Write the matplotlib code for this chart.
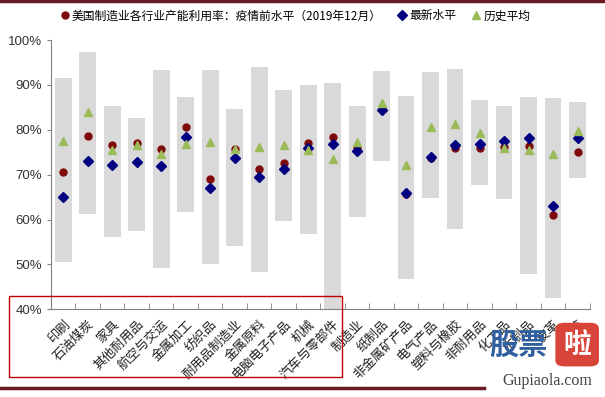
import numpy as np
import matplotlib.pyplot as plt
from matplotlib.patches import FancyBboxPatch, Rectangle
from matplotlib.lines import Line2D
from matplotlib.ticker import FuncFormatter

plt.rcParams['font.family'] = ['Noto Sans CJK SC', 'DejaVu Sans']

# 各行业产能利用率 (%)
hangye = ['印刷', '石油煤炭', '家具', '其他耐用品', '航空与交运', '金属加工', '纺织品',
          '耐用品制造业', '金属原料', '电脑电子产品', '机械', '汽车与零部件', '制造业',
          '纸制品', '非金属矿产品', '电气产品', '塑料与橡胶', '非耐用品', '化工品',
          '木制品', '皮革', '烟草']
zui_gao = [91.5, 97.3, 85.3, 82.6, 93.4, 87.4, 93.3, 84.6, 94.1, 88.9, 90.0,
           90.5, 85.4, 93.2, 87.5, 92.9, 93.5, 86.7, 85.2, 87.4, 87.0, 86.2]
zui_di = [50.5, 61.3, 56.0, 57.4, 49.3, 61.7, 50.0, 54.0, 48.3, 59.6, 56.7,
          36.0, 60.6, 73.1, 46.7, 64.7, 57.8, 67.8, 64.6, 47.9, 42.4, 69.3]
yiqing_qian = [70.7, 78.6, 76.6, 77.0, 75.7, 80.6, 69.0, 75.7, 71.3, 72.7, 77.0,
               78.3, 75.9, 84.6, 65.7, 73.7, 75.9, 76.0, 76.1, 76.4, 61.0, 75.0]
zui_xin = [65.1, 73.0, 72.2, 72.8, 72.0, 78.4, 67.0, 73.8, 69.4, 71.3, 76.0,
           76.8, 75.3, 84.4, 65.9, 73.9, 76.6, 76.9, 77.6, 78.1, 63.1, 78.2]
li_shi = [77.6, 83.9, 75.4, 76.6, 74.5, 76.8, 77.3, 75.7, 76.1, 76.7, 75.6,
          73.5, 77.3, 85.9, 72.2, 80.6, 81.3, 79.3, 75.9, 75.6, 74.6, 79.8]

x = np.arange(len(hangye))
gao = np.array(zui_gao)
di = np.array(zui_di)

fig = plt.figure(figsize=(6.05, 3.97), dpi=100)
ax = fig.add_axes([0.0843, 0.221, 0.8907, 0.678])

ax.bar(x, gao - di, bottom=di, width=0.68, color='#d9d9d9', zorder=1)
ax.plot(x, yiqing_qian, 'o', color='#7f0a0a', ms=5, zorder=3)
ax.plot(x, zui_xin, 'D', color='#000080', ms=4.6, zorder=4)
ax.plot(x, li_shi, '^', color='#9bbb59', ms=5.5, zorder=5)

ax.set_xlim(-0.5, len(hangye) - 0.5)
ax.set_ylim(40, 100)
ax.set_yticks(np.arange(40, 101, 10))
ax.yaxis.set_major_formatter(FuncFormatter(lambda v, p: f'{v:.0f}%'))
for lab in ax.get_yticklabels():
    lab.set_family(['Liberation Sans', 'DejaVu Sans'])
ax.tick_params(axis='y', labelsize=9.5, colors='#808080', labelcolor='#333333', length=3)

ax.set_xticks(x)
ax.set_xticklabels(hangye, rotation=45, ha='right', va='top', rotation_mode='anchor',
                   fontsize=9.3)
ax.tick_params(axis='x', length=0, pad=6, labelcolor='#222222')
ax.set_xticks(x + 0.5, minor=True)
ax.tick_params(axis='x', which='minor', direction='in', length=4, color='#808080')

for s in ['top', 'right']:
    ax.spines[s].set_visible(False)
for s in ['left', 'bottom']:
    ax.spines[s].set_color('#808080')

h1 = Line2D([], [], ls='', marker='o', color='#7f0a0a', ms=5)
h2 = Line2D([], [], ls='', marker='D', color='#000080', ms=4.6)
h3 = Line2D([], [], ls='', marker='^', color='#9bbb59', ms=5.5)
fig.legend([h1, h2, h3],
           ['美国制造业各行业产能利用率：疫情前水平（2019年12月）', '最新水平', '历史平均'],
           loc='center', bbox_to_anchor=(0.487, 0.96), ncol=3, frameon=False,
           fontsize=8.5, handletextpad=0.1, columnspacing=1.2, handlelength=1.0)

# 红框标注
fig.patches.append(Rectangle((9 / 605, 1 - 377 / 397), 333 / 605, 81 / 397,
                             transform=fig.transFigure, fill=False,
                             edgecolor='#c00000', lw=1.0))

# 报告页面横线
fig.add_artist(Line2D([0, 1], [0.997, 0.997], color='#6b1a24', lw=2.5,
                      transform=fig.transFigure))
fig.add_artist(Line2D([0, 0.80], [1 - 388 / 397, 1 - 388 / 397], color='#6b1a24', lw=2.5,
                      transform=fig.transFigure))

# 水印
fig.text(0.808, 0.095, '股票', fontsize=21, color='#2f5f9e', fontweight='bold',
         va='bottom', ha='left')
fig.patches.append(FancyBboxPatch((0.918, 0.077), 0.072, 0.11,
                                  boxstyle='round,pad=0,rounding_size=0.015',
                                  transform=fig.transFigure, facecolor='#d9443a',
                                  edgecolor='none'))
fig.text(0.954, 0.132, '啦', fontsize=20, color='white', fontweight='bold',
         ha='center', va='center')
fig.text(0.905, 0.04, 'Gupiaola.com', fontsize=11.5, color='#444444',
         family='Liberation Serif', ha='center', va='center')

fig.savefig('out.png', dpi=100)
